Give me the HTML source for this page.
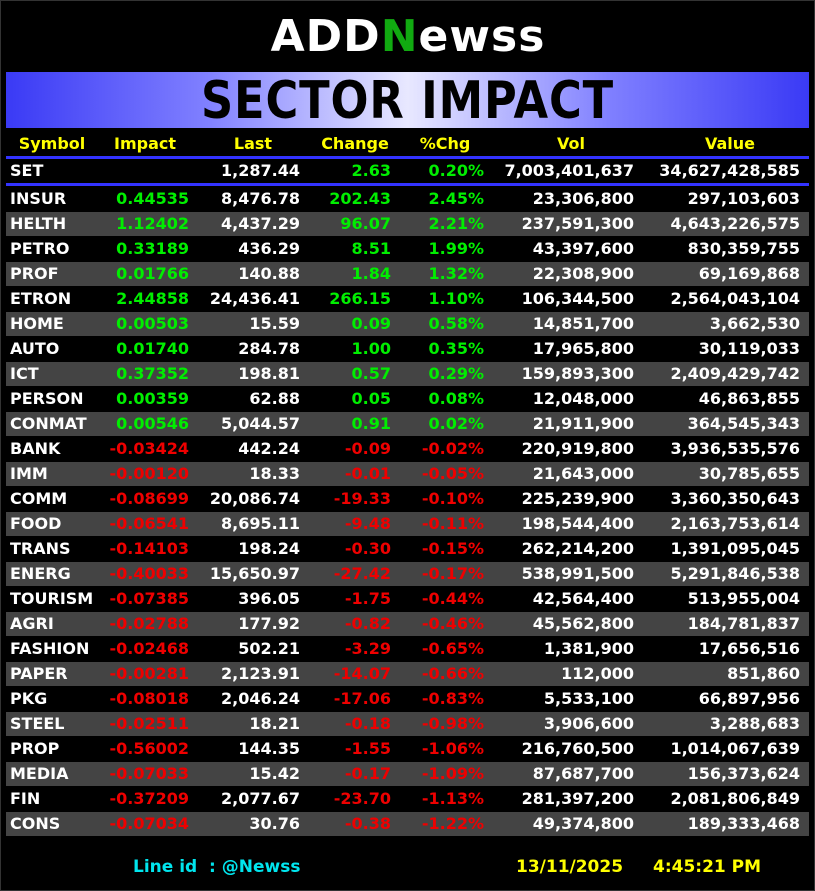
<!DOCTYPE html>
<html><head><meta charset="utf-8"><style>
body{margin:0;background:#000;width:815px;height:891px;overflow:hidden;font-family:"DejaVu Sans","Liberation Sans",sans-serif;position:relative}
.frame{position:absolute;left:0;top:0;width:813px;height:889px;border:1px solid #333}
.logo{position:absolute;left:262px;top:12px;width:292px;height:50px;color:#fff;font:bold 44px "DejaVu Sans",sans-serif;letter-spacing:1px;text-align:center;line-height:50px}
.banner{position:absolute;left:6px;top:72px;width:803px;height:56px;background:linear-gradient(90deg,#3a3af5 0%,#8080ff 25%,#e8e8ff 50%,#8080ff 75%,#3a3af5 100%)}
.banner div{position:absolute;left:0;right:0;top:0;text-align:center;font:bold 52px "DejaVu Sans",sans-serif;color:#000;line-height:58px;transform:scaleX(0.86);letter-spacing:1px}
.hl{position:absolute;left:6px;width:803px;height:3px;background:#3333ff}
.row{position:absolute;left:6px;width:803px;height:24px;font-weight:bold;font-size:16px;color:#fff;line-height:24px}
.row.g{background:#444}
.row span{position:absolute;top:0;white-space:nowrap}
.s{left:4px}
.i{right:620px}.l{right:509px}.c{right:418px}.p{right:325px}.v{right:175px}.val{right:9px}
.gr{color:#00ee00}.rd{color:#ee0000}
.hd span{color:#ffff00;transform:translateX(-50%)}
.ft{position:absolute;top:857px;font-weight:bold;font-size:17px}
</style></head><body>
<div class="frame"></div>
<div class="logo">ADD<span style="color:#1a1">N</span>ewss</div>
<div class="banner"><div>SECTOR IMPACT</div></div>
<div class="row hd" style="top:132px"><span style="left:46px">Symbol</span><span style="left:139px">Impact</span><span style="left:247px">Last</span><span style="left:349px">Change</span><span style="left:439px">%Chg</span><span style="left:565px">Vol</span><span style="left:724px">Value</span></div>
<div class="hl" style="top:156px"></div>
<div class="row" style="top:159px"><span class="s">SET</span><span class="l">1,287.44</span><span class="c gr">2.63</span><span class="p gr">0.20%</span><span class="v">7,003,401,637</span><span class="val">34,627,428,585</span></div>
<div class="hl" style="top:183px"></div>
<div id="rows"></div>
<div class="ft" style="left:133px;color:#00e5ee">Line id&nbsp; : @Newss</div>
<div class="ft" style="left:516px;color:#ffff00">13/11/2025</div>
<div class="ft" style="left:653px;color:#ffff00">4:45:21 PM</div>
<script>
var d=[["INSUR","0.44535","8,476.78","202.43","2.45%","23,306,800","297,103,603"],
["HELTH","1.12402","4,437.29","96.07","2.21%","237,591,300","4,643,226,575"],
["PETRO","0.33189","436.29","8.51","1.99%","43,397,600","830,359,755"],
["PROF","0.01766","140.88","1.84","1.32%","22,308,900","69,169,868"],
["ETRON","2.44858","24,436.41","266.15","1.10%","106,344,500","2,564,043,104"],
["HOME","0.00503","15.59","0.09","0.58%","14,851,700","3,662,530"],
["AUTO","0.01740","284.78","1.00","0.35%","17,965,800","30,119,033"],
["ICT","0.37352","198.81","0.57","0.29%","159,893,300","2,409,429,742"],
["PERSON","0.00359","62.88","0.05","0.08%","12,048,000","46,863,855"],
["CONMAT","0.00546","5,044.57","0.91","0.02%","21,911,900","364,545,343"],
["BANK","-0.03424","442.24","-0.09","-0.02%","220,919,800","3,936,535,576"],
["IMM","-0.00120","18.33","-0.01","-0.05%","21,643,000","30,785,655"],
["COMM","-0.08699","20,086.74","-19.33","-0.10%","225,239,900","3,360,350,643"],
["FOOD","-0.06541","8,695.11","-9.48","-0.11%","198,544,400","2,163,753,614"],
["TRANS","-0.14103","198.24","-0.30","-0.15%","262,214,200","1,391,095,045"],
["ENERG","-0.40033","15,650.97","-27.42","-0.17%","538,991,500","5,291,846,538"],
["TOURISM","-0.07385","396.05","-1.75","-0.44%","42,564,400","513,955,004"],
["AGRI","-0.02788","177.92","-0.82","-0.46%","45,562,800","184,781,837"],
["FASHION","-0.02468","502.21","-3.29","-0.65%","1,381,900","17,656,516"],
["PAPER","-0.00281","2,123.91","-14.07","-0.66%","112,000","851,860"],
["PKG","-0.08018","2,046.24","-17.06","-0.83%","5,533,100","66,897,956"],
["STEEL","-0.02511","18.21","-0.18","-0.98%","3,906,600","3,288,683"],
["PROP","-0.56002","144.35","-1.55","-1.06%","216,760,500","1,014,067,639"],
["MEDIA","-0.07033","15.42","-0.17","-1.09%","87,687,700","156,373,624"],
["FIN","-0.37209","2,077.67","-23.70","-1.13%","281,397,200","2,081,806,849"],
["CONS","-0.07034","30.76","-0.38","-1.22%","49,374,800","189,333,468"]];
var h="";d.forEach(function(r,k){var c=r[1][0]=="-"?"rd":"gr";
h+='<div class="row'+(k%2?' g':'')+'" style="top:'+(187+k*25)+'px"><span class="s">'+r[0]+'</span><span class="i '+c+'">'+r[1]+'</span><span class="l">'+r[2]+'</span><span class="c '+c+'">'+r[3]+'</span><span class="p '+c+'">'+r[4]+'</span><span class="v">'+r[5]+'</span><span class="val">'+r[6]+'</span></div>';});
document.getElementById("rows").innerHTML=h;
</script>
</body></html>
